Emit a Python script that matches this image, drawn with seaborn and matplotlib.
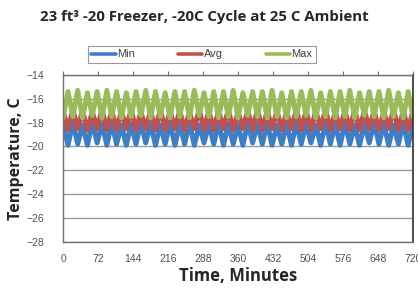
"""Freezer cycle temperature chart (Min / Avg / Max)."""

import matplotlib
matplotlib.use("Agg")
import matplotlib.pyplot as plt
import seaborn as sns
import pandas as pd

sns.set_style("white")
plt.rcParams['font.family'] = ['Liberation Sans', 'DejaVu Sans']

# sample times, minutes (gaps on even samples, cycle columns on odd samples)
minutes = list(range(0, 721, 10))
x_ticks = [0, 72, 144, 216, 288, 360, 432, 504, 576, 648, 720]
y_ticks = [-28, -26, -24, -22, -20, -18, -16, -14]

# values between cycles (37) and at each cycle column (36), deg C
min_gap = [-18.1, -18.0, -18.2, -18.0, -18.1, -18.0, -18.2, -18.1, -18.0, -18.1,
           -18.2, -18.0, -18.1, -18.0, -18.2, -18.1, -18.0, -18.1, -18.2, -18.0,
           -18.1, -18.0, -18.2, -18.1, -18.0, -18.1, -18.2, -18.0, -18.1, -18.0,
           -18.2, -18.1, -18.0, -18.1, -18.2, -18.0, -18.1]
min_col = [-19.9, -19.8, -19.9, -19.7, -19.9, -19.8, -19.9, -19.8, -19.7, -19.9,
           -19.8, -19.9, -19.8, -19.9, -19.7, -19.8, -19.9, -19.8, -19.9, -19.7,
           -19.8, -19.9, -19.8, -19.9, -19.8, -19.7, -19.9, -19.8, -19.9, -19.8,
           -19.9, -19.7, -19.8, -19.9, -19.8, -19.9]
avg_gap = [-17.0, -16.9, -17.0, -17.1, -16.9, -17.0, -17.0, -16.9, -17.1, -17.0,
           -16.9, -17.0, -17.0, -17.1, -16.9, -17.0, -17.0, -16.9, -17.1, -17.0,
           -16.9, -17.0, -17.0, -17.1, -16.9, -17.0, -17.0, -16.9, -17.1, -17.0,
           -16.9, -17.0, -17.0, -17.1, -16.9, -17.0, -17.0]
avg_col = [-18.6, -18.5, -18.6, -18.5, -18.6, -18.6, -18.5, -18.6, -18.5, -18.6,
           -18.6, -18.5, -18.6, -18.5, -18.6, -18.6, -18.5, -18.6, -18.5, -18.6,
           -18.6, -18.5, -18.6, -18.5, -18.6, -18.6, -18.5, -18.6, -18.5, -18.6,
           -18.6, -18.5, -18.6, -18.5, -18.6, -18.6]
max_gap = [-17.6, -17.5, -17.6, -17.4, -17.6, -17.5, -17.6, -17.5, -17.4, -17.6,
           -17.5, -17.6, -17.5, -17.6, -17.4, -17.5, -17.6, -17.5, -17.6, -17.4,
           -17.5, -17.6, -17.5, -17.6, -17.5, -17.4, -17.6, -17.5, -17.6, -17.5,
           -17.6, -17.4, -17.5, -17.6, -17.5, -17.6, -17.5]
max_col = [-15.4, -15.3, -15.5, -15.4, -15.3, -15.4, -15.5, -15.4, -15.3, -15.4,
           -15.5, -15.4, -15.4, -15.3, -15.5, -15.4, -15.4, -15.3, -15.5, -15.4,
           -15.4, -15.3, -15.5, -15.4, -15.4, -15.3, -15.5, -15.4, -15.4, -15.3,
           -15.5, -15.4, -15.4, -15.3, -15.5, -15.4]

series_names = ['Min', 'Avg', 'Max']
series_colors = {'Min': '#3D7EC6', 'Avg': '#C0504D', 'Max': '#9BBB59'}


def interleave(gap, col):
    vals = []
    for i, g in enumerate(gap):
        vals.append(g)
        if i < len(col):
            vals.append(col[i])
    return vals


frames = []
for name, g, c in [('Min', min_gap, min_col), ('Avg', avg_gap, avg_col),
                   ('Max', max_gap, max_col)]:
    frames.append(pd.DataFrame({'minutes': minutes, 'temp': interleave(g, c),
                                'series': name}))
df = pd.concat(frames, ignore_index=True)

fig = plt.figure(figsize=(4.18, 2.88), dpi=100)
ax = fig.add_axes([0.151, 0.160, 0.837, 0.580])

for name in series_names:
    sns.lineplot(data=df[df['series'] == name], x='minutes', y='temp',
                 color=series_colors[name], linewidth=3.6, ax=ax, label=name,
                 solid_joinstyle='round', solid_capstyle='round')

ax.set_xlim(0, 720)
ax.set_ylim(-28, -14)
ax.set_xticks(x_ticks)
ax.set_yticks(y_ticks)
ax.yaxis.grid(True, color='#9a9a9a', linewidth=1.0)
ax.set_axisbelow(True)

ax.tick_params(axis='x', top=True, bottom=False, labeltop=False, labelbottom=True,
               direction='out', length=3, color='#707070', labelsize=7.5,
               labelcolor='#505050', pad=6)
ax.tick_params(axis='y', left=False, labelsize=7.5, labelcolor='#505050', pad=10)
for side in ['left', 'bottom', 'top']:
    ax.spines[side].set_color('#707070')
    ax.spines[side].set_linewidth(1.0)
ax.spines['right'].set_color('#303030')
ax.spines['right'].set_linewidth(1.2)

ax.set_xlabel('Time, Minutes', fontsize=12, fontweight='bold', family='Open Sans',
              labelpad=2)
ax.set_ylabel('Temperature, C', fontsize=11.5, fontweight='bold', family='Open Sans',
              labelpad=2)

leg = fig.legend(loc='center', bbox_to_anchor=(0.483, 0.811), ncol=3,
                 fontsize=8, frameon=True, fancybox=False, handlelength=2.2,
                 handletextpad=0.1, columnspacing=3.9, borderpad=0.3)
leg.get_frame().set_edgecolor('#808080')
leg.get_frame().set_linewidth(0.8)
for line in leg.get_lines():
    line.set_linewidth(2.6)
for txt in leg.get_texts():
    txt.set_color('#404040')
ax.get_legend().remove()

fig.text(0.488, 0.941, '23 ft³ -20 Freezer, -20C Cycle at 25 C Ambient',
         ha='center', va='center', fontsize=10.8, fontweight='bold', family='Open Sans')

fig.savefig('out.png', dpi=100)
